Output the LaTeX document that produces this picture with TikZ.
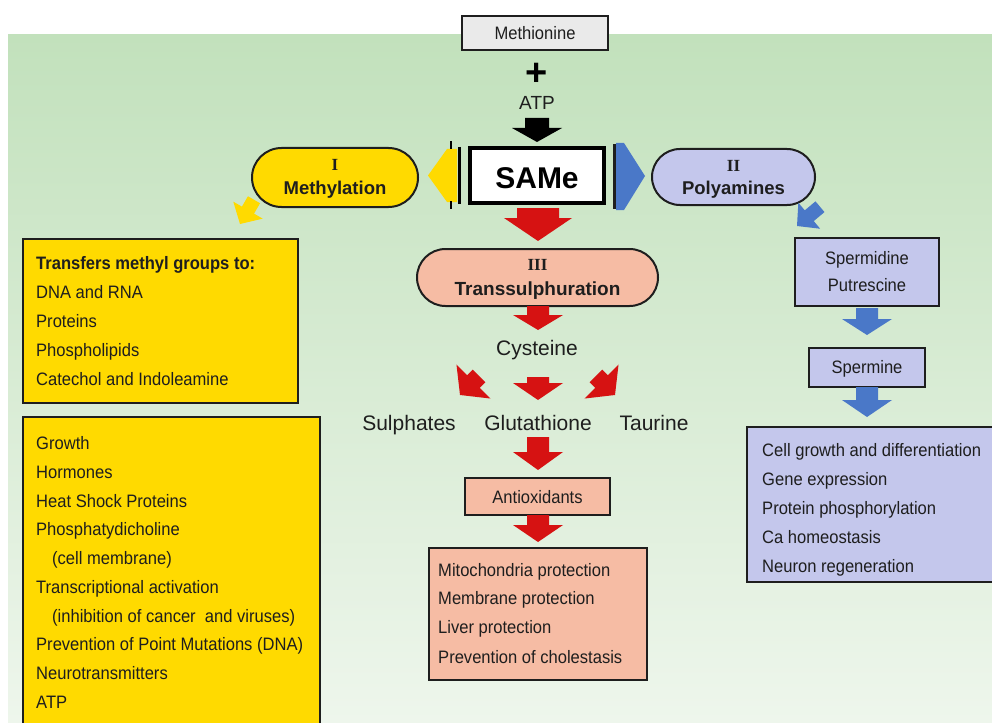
\documentclass[tikz,border=0pt]{standalone}
\usepackage{fontspec}
\setmainfont{Liberation Sans}
\newfontfamily\nar[FakeStretch=0.92]{Liberation Sans}
\newfontfamily\romf{Liberation Serif}
\usetikzlibrary{shapes.misc}
\definecolor{ylw}{RGB}{255,218,0}
\definecolor{lav}{RGB}{196,199,236}
\definecolor{slm}{RGB}{246,188,164}
\definecolor{redA}{RGB}{214,18,18}
\definecolor{bluA}{RGB}{74,120,200}
\definecolor{gryB}{RGB}{234,234,234}
\definecolor{bgTop}{RGB}{194,225,188}
\definecolor{bgBot}{RGB}{238,246,236}
\definecolor{ink}{RGB}{30,30,30}
\newcommand{\fatarr}[7]{\fill[#1,shift={#2},rotate=#3] (0,0) -- (-#4,#5) -- (-#4,#7) -- ({-#4-#6},#7) -- ({-#4-#6},-#7) -- (-#4,-#7) -- (-#4,-#5) -- cycle;}
\begin{document}
\begin{tikzpicture}[x=1pt,y=-1pt,
  box/.style={draw=ink,line width=2pt,inner sep=0pt},
  pill/.style={rounded rectangle,draw=ink,line width=2pt,inner sep=0pt},
  lst/.style={anchor=base west,inner sep=0pt,text=ink,font=\nar\fontsize{18}{20}\selectfont},
  lbl/.style={anchor=base,inner sep=0pt,text=ink,font=\nar\fontsize{18}{20}\selectfont},
  big/.style={anchor=base,inner sep=0pt,text=ink,font=\fontsize{21}{24}\selectfont},
  rom/.style={anchor=base,inner sep=0pt,text=ink,font=\romf\bfseries\fontsize{17}{18}\selectfont},
  ttl/.style={anchor=base,inner sep=0pt,text=ink,font=\bfseries\fontsize{18.5}{20}\selectfont}]
\useasboundingbox (0,0) rectangle (992,722);
\clip (0,0) rectangle (992,722);
\fill[white] (0,0) rectangle (992,722);
\shade[top color=bgTop,bottom color=bgBot] (8,35) rectangle (992,722);

% top
\node[box,fill=gryB,minimum width=146pt,minimum height=34pt] (met) at (535,33) {};
\node[lbl] (mett) at (535,39.5) {Methionine};
\node[inner sep=0pt,font=\bfseries\fontsize{38}{38}\selectfont] (plus) at (537,74) {+};
\node[anchor=base,inner sep=0pt,text=ink,font=\fontsize{19}{20}\selectfont] (atp) at (537,110) {ATP};
\fatarr{black}{(537,142)}{-90}{14}{25}{10}{12}

% SAMe
\node[draw=black,line width=4pt,fill=white,minimum width=134pt,minimum height=55pt,inner sep=0pt] (same) at (537,175.5) {};
\node[anchor=base,inner sep=0pt,font=\bfseries\fontsize{30}{30}\selectfont] (samet) at (537,188) {SAMe};

% side arrows at SAMe
\fill[ylw] (457,149) -- (447,149) -- (428,175.5) -- (447,202) -- (457,202) -- cycle;
\draw[line width=3pt] (459.5,147) -- (459.5,204);
\draw[line width=2pt] (451,141) -- (451,149) (451,201) -- (451,209);
\fill[bluA] (616,143) -- (624,143) -- (645,176) -- (624,210) -- (616,210) -- cycle;
\draw[line width=3pt,ink] (614.5,144) -- (614.5,209);

% Methylation
\node[pill,fill=ylw,minimum width=166pt,minimum height=59pt] (meth) at (335,177.5) {};
\node[rom] (methI) at (335,171) {I};
\node[ttl] (metht) at (335,194.5) {Methylation};
% Polyamines
\node[pill,fill=lav,minimum width=163pt,minimum height=56pt] (poly) at (733.5,177) {};
\node[rom] (polyI) at (733.5,171.5) {II};
\node[ttl] (polyt) at (733.5,194.5) {Polyamines};

\fatarr{ylw}{(240,224)}{-120}{16}{17}{12}{7}
\fatarr{bluA}{(797,226)}{-140}{16}{17}{14}{7}

% Transsulphuration branch
\fatarr{redA}{(538,241)}{-90}{23}{34}{10}{21}
\node[pill,fill=slm,minimum width=241pt,minimum height=57pt] (trans) at (537.5,277.5) {};
\node[rom] (transI) at (537.5,270.5) {III};
\node[anchor=base,inner sep=0pt,text=ink,font=\bfseries\fontsize{19}{20}\selectfont] (transt) at (537.5,295.5) {Transsulphuration};
\fatarr{redA}{(538,330)}{-90}{15}{25}{9}{11}
\node[big] (cys) at (537,355.5) {Cysteine};
\fatarr{redA}{(460,395)}{-135}{19}{24}{8}{9}
\fatarr{redA}{(538,400)}{-90}{17}{25}{6}{11}
\fatarr{redA}{(615,395)}{-45}{19}{24}{8}{9}
\node[big] (sul) at (409,430.5) {Sulphates};
\node[big] (glu) at (538,430.5) {Glutathione};
\node[big] (tau) at (654,430.5) {Taurine};
\fatarr{redA}{(538,470)}{-90}{18}{25}{15}{11}
\node[box,fill=slm,minimum width=145pt,minimum height=37pt] (anti) at (537.5,496.5) {};
\node[lbl] (antit) at (537.5,503) {Antioxidants};
\fatarr{redA}{(538,542)}{-90}{17}{25}{10}{11}
\node[box,fill=slm,minimum width=218pt,minimum height=132pt] (prot) at (538,614) {};
\node[lst] (p1) at (438,576) {Mitochondria protection};
\node[lst] (p2) at (438,604) {Membrane protection};
\node[lst] (p3) at (438,633) {Liver protection};
\node[lst] (p4) at (438,663) {Prevention of cholestasis};

% Left boxes
\node[box,fill=ylw,minimum width=275pt,minimum height=164pt] (mbox) at (160.5,321) {};
\node[lst,font=\nar\bfseries\fontsize{18}{20}\selectfont] (m0) at (36,269) {Transfers methyl groups to:};
\node[lst] (m1) at (36,298) {DNA and RNA};
\node[lst] (m2) at (36,327) {Proteins};
\node[lst] (m3) at (36,356) {Phospholipids};
\node[lst] (m4) at (36,385) {Catechol and Indoleamine};

\node[box,fill=ylw,minimum width=297pt,minimum height=330pt] (gbox) at (171.5,582) {};
\node[lst] (g1) at (36,449) {Growth};
\node[lst] (g2) at (36,478) {Hormones};
\node[lst] (g3) at (36,507) {Heat Shock Proteins};
\node[lst] (g4) at (36,535) {Phosphatydicholine};
\node[lst] (g5) at (52,564) {(cell membrane)};
\node[lst] (g6) at (36,593) {Transcriptional activation};
\node[lst] (g7) at (52,622) {(inhibition of cancer\ \ and viruses)};
\node[lst] (g8) at (36,650) {Prevention of Point Mutations (DNA)};
\node[lst] (g9) at (36,679) {Neurotransmitters};
\node[lst] (g10) at (36,708) {ATP};

% Right branch
\node[box,fill=lav,minimum width=144pt,minimum height=68pt] (spd) at (867,272) {};
\node[lbl] (spd1) at (867,264.5) {Spermidine};
\node[lbl] (spd2) at (867,291) {Putrescine};
\fatarr{bluA}{(867,335)}{-90}{16}{25}{11}{11}
\node[box,fill=lav,minimum width=116pt,minimum height=39pt] (spm) at (867,367.5) {};
\node[lbl] (spmt) at (867,373.5) {Spermine};
\fatarr{bluA}{(867,417)}{-90}{17}{25}{13}{11}
\node[box,fill=lav,minimum width=260pt,minimum height=155pt] (cell) at (877,504.5) {};
\node[lst] (c1) at (762,456) {Cell growth and differentiation};
\node[lst] (c2) at (762,485) {Gene expression};
\node[lst] (c3) at (762,514) {Protein phosphorylation};
\node[lst] (c4) at (762,543) {Ca homeostasis};
\node[lst] (c5) at (762,572) {Neuron regeneration};
\end{tikzpicture}
\end{document}
